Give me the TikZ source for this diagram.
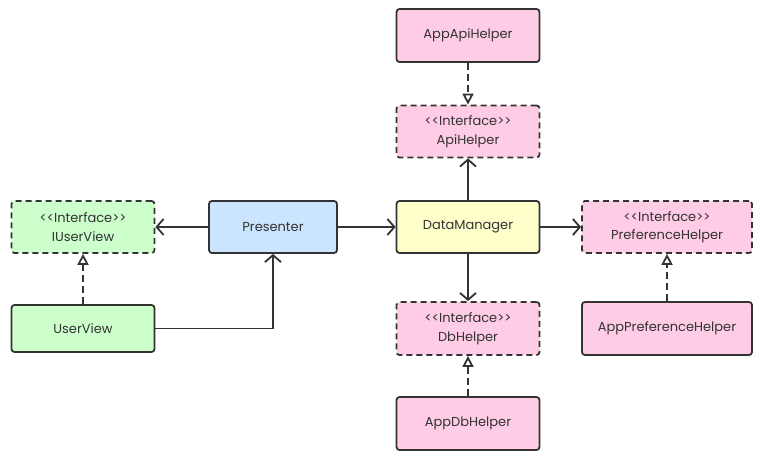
\documentclass[tikz,border=0pt]{standalone}
\usepackage{fontspec}
\setmainfont{Poppins}
\usetikzlibrary{arrows.meta}
\definecolor{edge}{HTML}{333333}
\definecolor{cgreen}{HTML}{CCFFCC}
\definecolor{cblue}{HTML}{CCE5FF}
\definecolor{cyellow}{HTML}{FFFFCC}
\definecolor{cpink}{HTML}{FFCCE6}
\newcommand{\ifc}{<{}<Interface>{}>}
\tikzset{
  box/.style={draw=edge, line width=1.8pt, rounded corners=3pt, inner sep=0pt,
    align=center, text=edge, font=\fontsize{13}{18.5}\selectfont},
  iface/.style={box, dash pattern=on 6pt off 4pt},
  assoc/.style={draw=edge, line width=1.8pt, -{Straight Barb[length=7pt,width=16pt,line width=1.8pt]}},
  realize/.style={draw=edge, line width=2pt, dash pattern=on 7pt off 4pt,
    -{Triangle[open,length=11pt,width=11pt,line width=1.8pt,fill=white]}},
}
\begin{document}
\begin{tikzpicture}[x=1pt,y=-1pt]
\useasboundingbox (0,0) rectangle (764,457);
\node[iface, fill=cgreen, minimum width=143pt, minimum height=52pt] (iuv) at (83,227) {\ifc\\IUserView};
\node[box, fill=cblue, minimum width=128pt, minimum height=52pt] (pres) at (273,227) {Presenter};
\node[box, fill=cgreen, minimum width=143pt, minimum height=47pt] (uv) at (83,328.5) {UserView};
\node[box, fill=cpink, minimum width=143pt, minimum height=53pt] (aah) at (468,35.5) {AppApiHelper};
\node[iface, fill=cpink, minimum width=143pt, minimum height=52pt] (ah) at (468,131.5) {\ifc\\ApiHelper};
\node[box, fill=cyellow, minimum width=143pt, minimum height=52pt] (dm) at (468,227) {DataManager};
\node[iface, fill=cpink, minimum width=170pt, minimum height=52pt] (ph) at (667,227) {\ifc\\PreferenceHelper};
\node[iface, fill=cpink, minimum width=143pt, minimum height=53pt] (dh) at (468,328.5) {\ifc\\DbHelper};
\node[box, fill=cpink, minimum width=170pt, minimum height=53pt] (aph) at (667,328.5) {AppPreferenceHelper};
\node[box, fill=cpink, minimum width=143pt, minimum height=53pt] (adh) at (468,423.5) {AppDbHelper};

\draw[assoc] (pres) -- (iuv);
\draw[assoc] (uv.east) -| (pres.south);
\draw[realize] (uv) -- (iuv);
\draw[assoc] (pres) -- (dm);
\draw[assoc] (dm) -- (ah);
\draw[assoc] (dm) -- (ph);
\draw[assoc] (dm) -- (dh);
\draw[realize] (aah) -- (ah);
\draw[realize] (aph) -- (ph);
\draw[realize] (adh) -- (dh);
\end{tikzpicture}
\end{document}
